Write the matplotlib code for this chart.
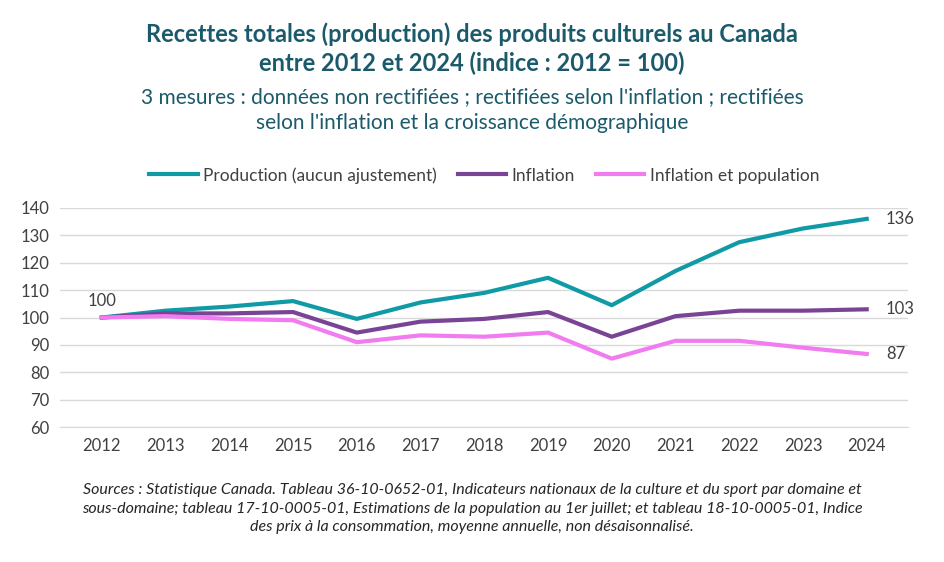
import matplotlib
matplotlib.use("Agg")
import matplotlib.pyplot as plt

plt.rcParams['font.family'] = ['Lato', 'DejaVu Sans']

annees = [2012, 2013, 2014, 2015, 2016, 2017, 2018, 2019, 2020, 2021, 2022, 2023, 2024]
production = [100, 102.5, 104, 106, 99.5, 105.5, 109, 114.5, 104.5, 117, 127.5, 132.5, 136]
inflation = [100, 101.5, 101.5, 102, 94.5, 98.5, 99.5, 102, 93, 100.5, 102.5, 102.5, 103]
inflation_pop = [100, 100.5, 99.5, 99, 91, 93.5, 93, 94.5, 85, 91.5, 91.5, 89, 86.7]

fig = plt.figure(figsize=(9.44, 5.62), dpi=100)
ax = fig.add_axes([0.064, 0.24, 0.898, 0.39])

ax.plot(annees, production, color='#0f9aa6', lw=3, label='Production (aucun ajustement)')
ax.plot(annees, inflation, color='#7a4496', lw=3, label='Inflation')
ax.plot(annees, inflation_pop, color='#f07cf0', lw=3, label='Inflation et population')

ax.set_ylim(60, 140)
ax.set_yticks(range(60, 141, 10))
ax.set_xlim(2011.35, 2024.65)
ax.set_xticks(annees)
ax.grid(axis='y', color='#d9d9d9', lw=1)
ax.set_axisbelow(True)
for s in ['top', 'right', 'left']:
    ax.spines[s].set_visible(False)
ax.spines['bottom'].set_color('#d9d9d9')
ax.tick_params(length=0, labelsize=12, colors='#404040', pad=8)

ax.text(annees[0], production[0] + 3, '100', ha='center', va='bottom', fontsize=12, color='#404040')
for serie in (production, inflation, inflation_pop):
    ax.text(annees[-1] + 0.3, serie[-1], f'{serie[-1]:.0f}', va='center', fontsize=12, color='#404040')

ax.legend(loc='lower center', bbox_to_anchor=(0.5, 1.04), ncol=3, frameon=False,
          fontsize=12.5, handlelength=2.8, columnspacing=1.2, handletextpad=0.3,
          labelcolor='#404040')

fig.text(0.5, 0.96, "Recettes totales (production) des produits culturels au Canada\nentre 2012 et 2024 (indice : 2012 = 100)",
         ha='center', va='top', fontsize=17, fontweight='bold', color='#1b5a6b', linespacing=1.3)
fig.text(0.5, 0.845, "3 mesures : données non rectifiées ; rectifiées selon l'inflation ; rectifiées\nselon l'inflation et la croissance démographique",
         ha='center', va='top', fontsize=15, color='#1b5a6b', linespacing=1.35)
fig.text(0.5, 0.14, "Sources : Statistique Canada. Tableau 36-10-0652-01, Indicateurs nationaux de la culture et du sport par domaine et\n"
         "sous-domaine; tableau 17-10-0005-01, Estimations de la population au 1er juillet; et tableau 18-10-0005-01, Indice\n"
         "des prix à la consommation, moyenne annuelle, non désaisonnalisé.",
         ha='center', va='top', fontsize=11.5, style='italic', color='#262626', linespacing=1.4)

fig.savefig('out.png', dpi=100)
